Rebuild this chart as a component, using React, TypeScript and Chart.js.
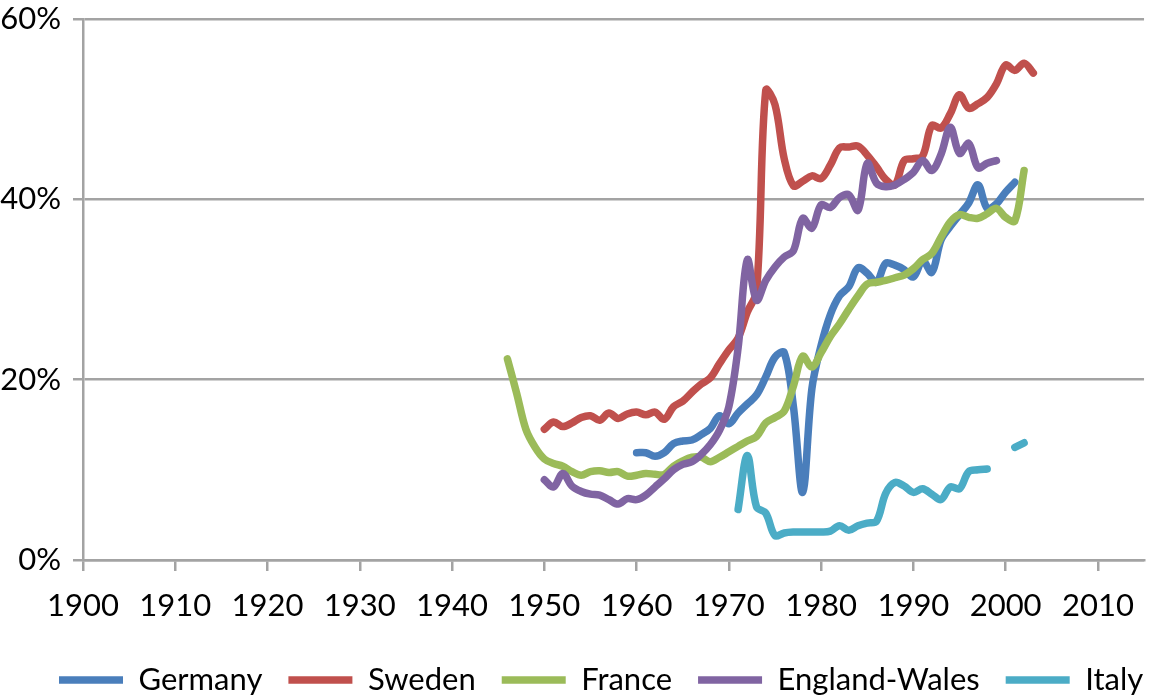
import React, { useEffect, useRef } from "react";
import { Chart, registerables } from "chart.js";

Chart.register(...registerables);

// ---- data (%) ----
const germanyStart = 1960;
const germany = [11.9, 11.9, 11.5, 11.9, 12.9, 13.2, 13.3, 13.9, 14.6, 16.0, 15.1, 16.3, 17.3, 18.3, 20.3, 22.5, 23.0, 17.0, 7.5, 19.0, 23.8, 27.2, 29.3, 30.3, 32.4, 31.8, 30.8, 32.9, 32.7, 32.2, 31.4, 33.2, 31.9, 35.5, 37.0, 38.3, 39.6, 41.6, 39.0, 39.5, 40.8, 41.9];

const swedenStart = 1950;
const sweden = [14.5, 15.3, 14.8, 15.2, 15.8, 16.0, 15.5, 16.3, 15.7, 16.2, 16.4, 16.1, 16.4, 15.6, 17.0, 17.6, 18.6, 19.5, 20.2, 21.8, 23.3, 24.6, 27.5, 29.8, 52.1, 50.5, 44.5, 41.5, 42.0, 42.6, 42.3, 43.8, 45.7, 45.8, 45.9, 44.9, 43.6, 42.2, 41.6, 44.3, 44.5, 44.8, 48.2, 47.9, 49.5, 51.6, 50.1, 50.6, 51.3, 52.8, 54.9, 54.3, 55.1, 54.0];

const franceStart = 1946;
const france = [22.3, 18.5, 14.5, 12.5, 11.2, 10.7, 10.4, 9.8, 9.4, 9.8, 9.9, 9.7, 9.8, 9.3, 9.4, 9.6, 9.5, 9.5, 10.4, 11.0, 11.4, 11.4, 10.9, 11.4, 12.0, 12.6, 13.2, 13.7, 15.2, 15.8, 16.5, 19.3, 22.6, 21.4, 23.0, 24.8, 26.2, 27.8, 29.3, 30.6, 30.8, 31.0, 31.3, 31.6, 32.3, 33.3, 34.0, 35.8, 37.5, 38.3, 38.0, 37.9, 38.4, 39.0, 38.0, 37.6, 43.2];

const englandStart = 1950;
const englandWales = [8.9, 8.1, 9.6, 8.2, 7.6, 7.3, 7.2, 6.7, 6.2, 6.8, 6.7, 7.2, 8.1, 9.0, 10.0, 10.6, 10.9, 11.7, 12.8, 14.4, 17.0, 23.5, 33.3, 28.8, 31.0, 32.5, 33.6, 34.3, 37.9, 36.8, 39.4, 39.1, 40.2, 40.5, 38.8, 44.0, 41.8, 41.4, 41.6, 42.2, 43.0, 44.3, 43.2, 45.0, 48.0, 45.1, 46.2, 43.5, 44.0, 44.3];

const italyStart = 1971;
const italy = [5.6, 11.6, 5.9, 5.2, 2.7, 3.0, 3.1, 3.1, 3.1, 3.1, 3.2, 3.8, 3.3, 3.8, 4.1, 4.3, 7.4, 8.6, 8.2, 7.5, 7.9, 7.3, 6.7, 8.1, 7.9, 9.8, 10.0, 10.1, null, null, 12.5, 13.0];

const seriesNames = ["Germany", "Sweden", "France", "England-Wales", "Italy"];
const seriesColors = ["#4A7EBB", "#C0504D", "#9BBB59", "#8064A2", "#4BACC6"];
const xTickStep = 10;
const yTickStep = 20;

const FONT = "Lato, 'Open Sans', sans-serif";

function toPoints(start: number, values: (number | null)[]) {
  return values.map((v, i) => ({ x: start + i, y: v }));
}

export default function App() {
  const ref = useRef<HTMLCanvasElement | null>(null);

  useEffect(() => {
    if (!ref.current) return;
    const all = [
      toPoints(germanyStart, germany),
      toPoints(swedenStart, sweden),
      toPoints(franceStart, france),
      toPoints(englandStart, englandWales),
      toPoints(italyStart, italy),
    ];
    const gridColor = "#A3A3A3";
    const legendOffset = {
      id: "legendOffset",
      afterLayout(c: any) {
        const l = c.legend;
        if (l) {
          l.left += 33;
          l.right += 33;
        }
      },
    };
    const chart = new Chart(ref.current, {
      type: "line",
      data: {
        datasets: all.map((pts, i) => ({
          label: seriesNames[i],
          data: pts as any,
          borderColor: seriesColors[i],
          backgroundColor: seriesColors[i],
          borderWidth: 7.5,
          borderCapStyle: "round",
          borderJoinStyle: "round",
          pointRadius: 0,
          tension: 0.35,
          spanGaps: false,
          fill: false,
          order: all.length - i,
        })),
      },
      plugins: [legendOffset],
      options: {
        animation: false,
        responsive: false,
        devicePixelRatio: 1,
        layout: { padding: { top: 0, right: 3, bottom: -5.5, left: 0 } },
        plugins: {
          tooltip: { enabled: false },
          legend: {
            position: "bottom",
            align: "start",
            labels: {
              usePointStyle: true,
              pointStyle: "line",
              pointStyleWidth: 64,
              padding: 26,
              color: "#000",
              font: { family: FONT, size: 31 },
              sort: (a: any, b: any) => a.datasetIndex - b.datasetIndex,
            },
          },
        },
        scales: {
          x: {
            type: "linear",
            min: 1900,
            max: 2015,
            afterFit(scale: any) {
              scale.height = 78.5;
            },
            ticks: {
              stepSize: xTickStep,
              includeBounds: false,
              autoSkip: false,
              maxRotation: 0,
              padding: 16,
              color: "#000",
              font: { family: FONT, size: 31 },
              callback: (v: any) => String(v),
            },
            grid: {
              drawOnChartArea: false,
              drawTicks: true,
              tickLength: 11,
              color: gridColor,
              lineWidth: 2.5,
            },
            border: { display: true, color: gridColor, width: 2.5 },
          },
          y: {
            min: 0,
            max: 60,
            afterFit(scale: any) {
              scale.width = 83;
            },
            ticks: {
              stepSize: yTickStep,
              padding: 12,
              color: "#000",
              font: { family: FONT, size: 31, lineHeight: 0.45 },
              callback: (v: any) => v + "%",
            },
            grid: {
              color: gridColor,
              lineWidth: 2.5,
              tickLength: 10,
              drawTicks: true,
            },
            border: { display: true, color: gridColor, width: 2.5 },
          },
        },
      },
    } as any);
    return () => chart.destroy();
  }, []);

  return (
    <div style={{ position: "fixed", left: 0, top: 0, width: 1150, height: 700, background: "#fff" }}>
      <canvas ref={ref} width={1150} height={700} style={{ width: 1150, height: 700, display: "block" }} />
    </div>
  );
}
